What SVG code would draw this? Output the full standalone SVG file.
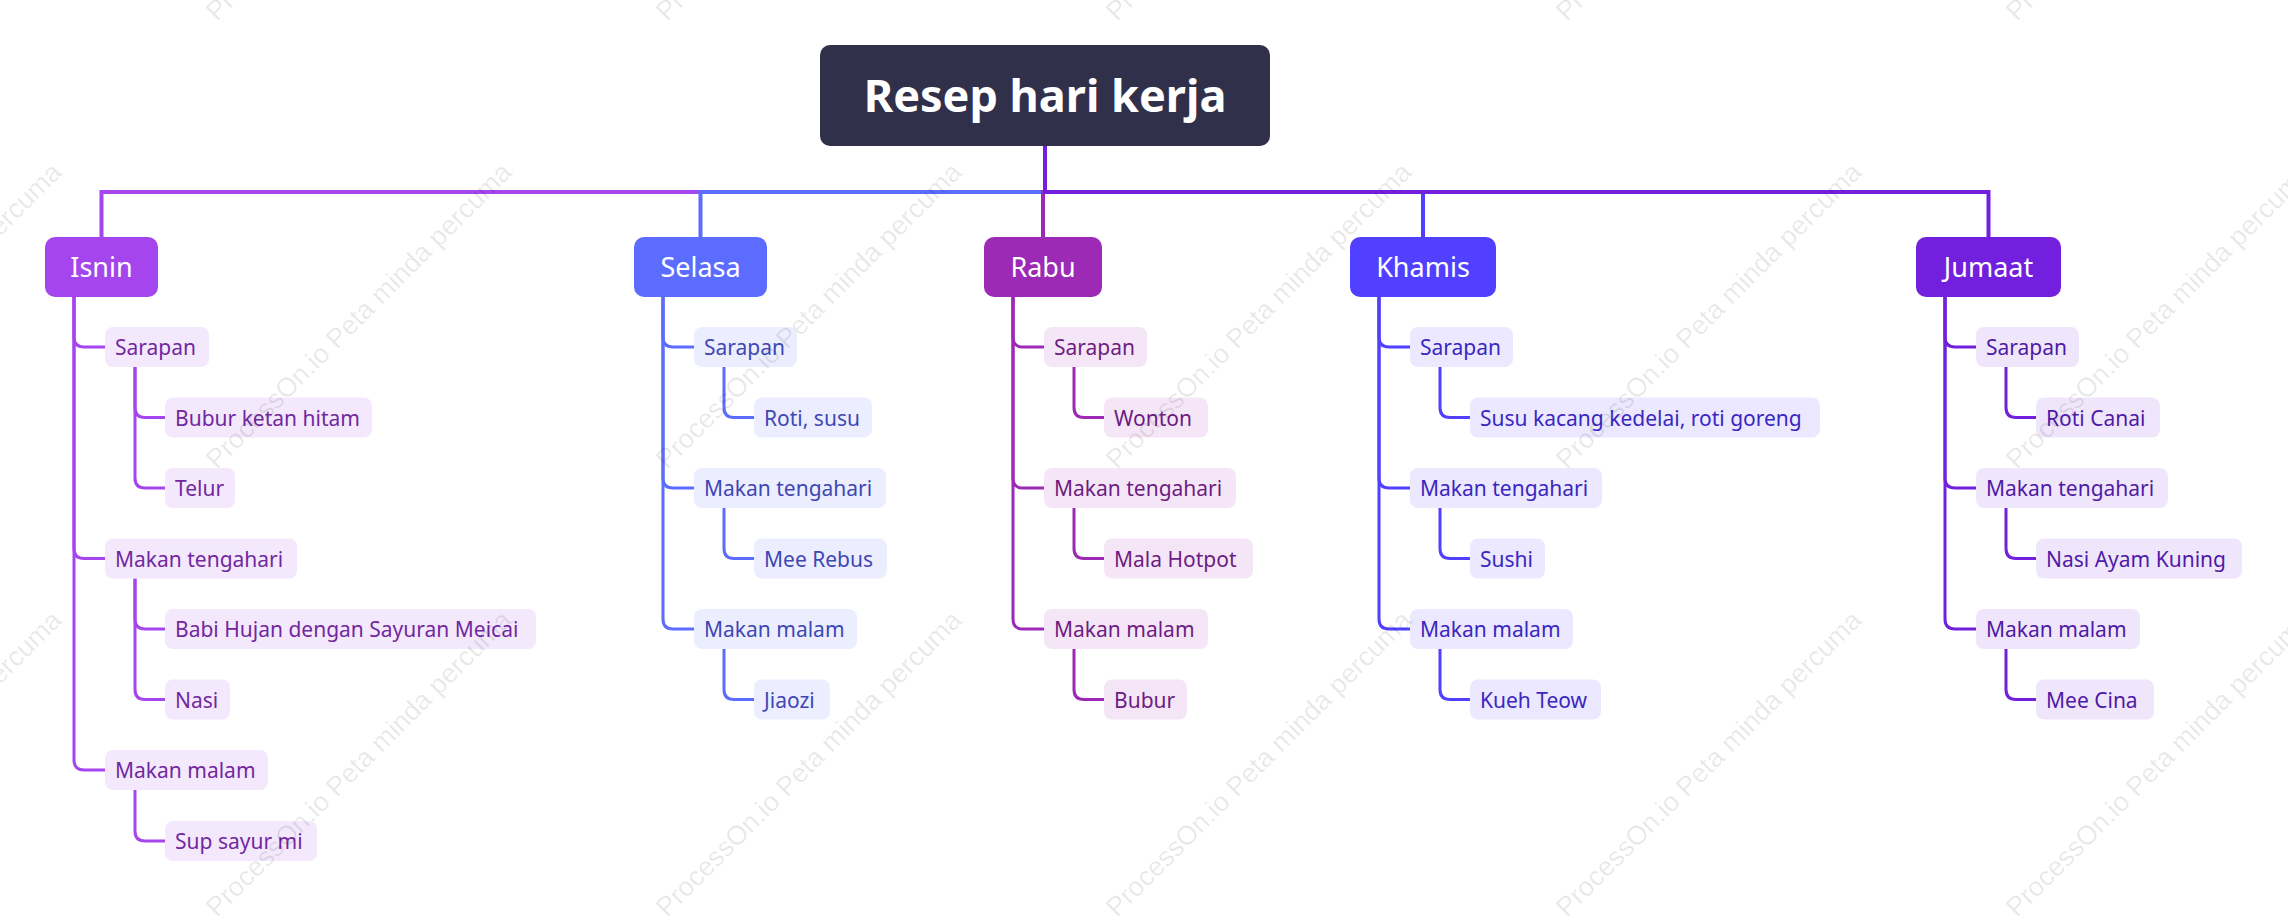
<svg xmlns="http://www.w3.org/2000/svg" width="2288" height="921" viewBox="0 0 2288 921">
<style>
text{font-family:"Noto Sans","Open Sans","DejaVu Sans",sans-serif}
.root{fill:#31304b}
.rt{fill:#fff;font-size:45px;font-weight:bold;text-anchor:middle}
.l1t{fill:#fff;font-size:27px;text-anchor:middle}
.lt{font-size:21px}
.c{fill:none;stroke-linecap:butt;stroke-linejoin:miter}
.c0{stroke-width:4}
.cs{stroke-width:3}
.k1{stroke:#a445ee}.f1{fill:#a445ee}.b1{fill:#f4e8fd}.t1{fill:#71289f}
.k2{stroke:#5c6cff}.f2{fill:#5c6cff}.b2{fill:#eceeff}.t2{fill:#3e47b4}
.k3{stroke:#9c2ab4}.f3{fill:#9c2ab4}.b3{fill:#f5e6f7}.t3{fill:#6d1c82}
.k4{stroke:#5140ff}.f4{fill:#5140ff}.b4{fill:#ebe8ff}.t4{fill:#3a27bf}
.k5{stroke:#7220de}.f5{fill:#7220de}.b5{fill:#efe6fb}.t5{fill:#4f1aa6}
.wm{fill:#000;fill-opacity:0.09;font-family:"Liberation Sans",Arial,sans-serif;font-size:27px}
</style>

<g id="connectors">
  <!-- root to level 1 -->
  <path class="c c0 k1" d="M1045 146 V192 H101.5 V237"/>
  <path class="c c0 k2" d="M1045 146 V192 H700.5 V237"/>
  <path class="c c0 k3" d="M1045 146 V192 H1043 V237"/>
  <path class="c c0 k4" d="M1045 146 V192 H1423 V237"/>
  <path class="c c0 k5" d="M1045 146 V192 H1988.5 V237"/>

  <!-- Isnin -->
  <path class="c cs k1" d="M74 297 V337 Q74 347 84 347 H105"/>
  <path class="c cs k1" d="M74 297 V548.5 Q74 558.5 84 558.5 H105"/>
  <path class="c cs k1" d="M74 297 V760 Q74 770 84 770 H105"/>
  <path class="c cs k1" d="M135 367 V407.5 Q135 417.5 145 417.5 H165"/>
  <path class="c cs k1" d="M135 367 V478 Q135 488 145 488 H165"/>
  <path class="c cs k1" d="M135 578.5 V619 Q135 629 145 629 H165"/>
  <path class="c cs k1" d="M135 578.5 V689.5 Q135 699.5 145 699.5 H165"/>
  <path class="c cs k1" d="M135 790 V831 Q135 841 145 841 H165"/>

  <!-- Selasa -->
  <path class="c cs k2" d="M663 297 V337 Q663 347 673 347 H694"/>
  <path class="c cs k2" d="M663 297 V478 Q663 488 673 488 H694"/>
  <path class="c cs k2" d="M663 297 V619 Q663 629 673 629 H694"/>
  <path class="c cs k2" d="M724 367 V407.5 Q724 417.5 734 417.5 H754"/>
  <path class="c cs k2" d="M724 508 V548.5 Q724 558.5 734 558.5 H754"/>
  <path class="c cs k2" d="M724 649 V689.5 Q724 699.5 734 699.5 H754"/>

  <!-- Rabu -->
  <path class="c cs k3" d="M1013 297 V337 Q1013 347 1023 347 H1044"/>
  <path class="c cs k3" d="M1013 297 V478 Q1013 488 1023 488 H1044"/>
  <path class="c cs k3" d="M1013 297 V619 Q1013 629 1023 629 H1044"/>
  <path class="c cs k3" d="M1074 367 V407.5 Q1074 417.5 1084 417.5 H1104"/>
  <path class="c cs k3" d="M1074 508 V548.5 Q1074 558.5 1084 558.5 H1104"/>
  <path class="c cs k3" d="M1074 649 V689.5 Q1074 699.5 1084 699.5 H1104"/>

  <!-- Khamis -->
  <path class="c cs k4" d="M1379 297 V337 Q1379 347 1389 347 H1410"/>
  <path class="c cs k4" d="M1379 297 V478 Q1379 488 1389 488 H1410"/>
  <path class="c cs k4" d="M1379 297 V619 Q1379 629 1389 629 H1410"/>
  <path class="c cs k4" d="M1440 367 V407.5 Q1440 417.5 1450 417.5 H1470"/>
  <path class="c cs k4" d="M1440 508 V548.5 Q1440 558.5 1450 558.5 H1470"/>
  <path class="c cs k4" d="M1440 649 V689.5 Q1440 699.5 1450 699.5 H1470"/>

  <!-- Jumaat -->
  <path class="c cs k5" d="M1945 297 V337 Q1945 347 1955 347 H1976"/>
  <path class="c cs k5" d="M1945 297 V478 Q1945 488 1955 488 H1976"/>
  <path class="c cs k5" d="M1945 297 V619 Q1945 629 1955 629 H1976"/>
  <path class="c cs k5" d="M2006 367 V407.5 Q2006 417.5 2016 417.5 H2036"/>
  <path class="c cs k5" d="M2006 508 V548.5 Q2006 558.5 2016 558.5 H2036"/>
  <path class="c cs k5" d="M2006 649 V689.5 Q2006 699.5 2016 699.5 H2036"/>
</g>

<g id="root"><rect class="root" x="820" y="45" width="450" height="101" rx="10"/><text class="rt" x="1045" y="112">Resep hari kerja</text></g>

<g id="isnin"><rect class="f1" x="45" y="237" width="113" height="60" rx="10"/><text class="l1t" x="101.5" y="277">Isnin</text></g>
<g id="selasa"><rect class="f2" x="634" y="237" width="133" height="60" rx="10"/><text class="l1t" x="700.5" y="277">Selasa</text></g>
<g id="rabu"><rect class="f3" x="984" y="237" width="118" height="60" rx="10"/><text class="l1t" x="1043" y="277">Rabu</text></g>
<g id="khamis"><rect class="f4" x="1350" y="237" width="146" height="60" rx="10"/><text class="l1t" x="1423" y="277">Khamis</text></g>
<g id="jumaat"><rect class="f5" x="1916" y="237" width="145" height="60" rx="10"/><text class="l1t" x="1988.5" y="277">Jumaat</text></g>

<!-- Isnin children -->
<g id="isnin-sarapan"><rect class="b1" x="105" y="327" width="104" height="40" rx="8"/><text class="lt t1" x="115" y="355">Sarapan</text></g>
<g id="isnin-bubur"><rect class="b1" x="165" y="397.5" width="207" height="40" rx="8"/><text class="lt t1" x="175" y="425.5">Bubur ketan hitam</text></g>
<g id="isnin-telur"><rect class="b1" x="165" y="468" width="70" height="40" rx="8"/><text class="lt t1" x="175" y="496">Telur</text></g>
<g id="isnin-tengahari"><rect class="b1" x="105" y="538.5" width="192" height="40" rx="8"/><text class="lt t1" x="115" y="566.5">Makan tengahari</text></g>
<g id="isnin-babi"><rect class="b1" x="165" y="609" width="371" height="40" rx="8"/><text class="lt t1" x="175" y="637">Babi Hujan dengan Sayuran Meicai</text></g>
<g id="isnin-nasi"><rect class="b1" x="165" y="679.5" width="65" height="40" rx="8"/><text class="lt t1" x="175" y="707.5">Nasi</text></g>
<g id="isnin-malam"><rect class="b1" x="105" y="750" width="163" height="40" rx="8"/><text class="lt t1" x="115" y="778">Makan malam</text></g>
<g id="isnin-sup"><rect class="b1" x="165" y="821" width="152" height="40" rx="8"/><text class="lt t1" x="175" y="849">Sup sayur mi</text></g>

<!-- Selasa children -->
<g id="selasa-sarapan"><rect class="b2" x="694" y="327" width="103" height="40" rx="8"/><text class="lt t2" x="704" y="355">Sarapan</text></g>
<g id="selasa-roti"><rect class="b2" x="754" y="397.5" width="118" height="40" rx="8"/><text class="lt t2" x="764" y="425.5">Roti, susu</text></g>
<g id="selasa-tengahari"><rect class="b2" x="694" y="468" width="192" height="40" rx="8"/><text class="lt t2" x="704" y="496">Makan tengahari</text></g>
<g id="selasa-mee"><rect class="b2" x="754" y="538.5" width="133" height="40" rx="8"/><text class="lt t2" x="764" y="566.5">Mee Rebus</text></g>
<g id="selasa-malam"><rect class="b2" x="694" y="609" width="163" height="40" rx="8"/><text class="lt t2" x="704" y="637">Makan malam</text></g>
<g id="selasa-jiaozi"><rect class="b2" x="754" y="679.5" width="76" height="40" rx="8"/><text class="lt t2" x="764" y="707.5">Jiaozi</text></g>

<!-- Rabu children -->
<g id="rabu-sarapan"><rect class="b3" x="1044" y="327" width="103" height="40" rx="8"/><text class="lt t3" x="1054" y="355">Sarapan</text></g>
<g id="rabu-wonton"><rect class="b3" x="1104" y="397.5" width="104" height="40" rx="8"/><text class="lt t3" x="1114" y="425.5">Wonton</text></g>
<g id="rabu-tengahari"><rect class="b3" x="1044" y="468" width="192" height="40" rx="8"/><text class="lt t3" x="1054" y="496">Makan tengahari</text></g>
<g id="rabu-mala"><rect class="b3" x="1104" y="538.5" width="149" height="40" rx="8"/><text class="lt t3" x="1114" y="566.5">Mala Hotpot</text></g>
<g id="rabu-malam"><rect class="b3" x="1044" y="609" width="164" height="40" rx="8"/><text class="lt t3" x="1054" y="637">Makan malam</text></g>
<g id="rabu-bubur"><rect class="b3" x="1104" y="679.5" width="83" height="40" rx="8"/><text class="lt t3" x="1114" y="707.5">Bubur</text></g>

<!-- Khamis children -->
<g id="khamis-sarapan"><rect class="b4" x="1410" y="327" width="103" height="40" rx="8"/><text class="lt t4" x="1420" y="355">Sarapan</text></g>
<g id="khamis-susu"><rect class="b4" x="1470" y="397.5" width="350" height="40" rx="8"/><text class="lt t4" x="1480" y="425.5">Susu kacang kedelai, roti goreng</text></g>
<g id="khamis-tengahari"><rect class="b4" x="1410" y="468" width="192" height="40" rx="8"/><text class="lt t4" x="1420" y="496">Makan tengahari</text></g>
<g id="khamis-sushi"><rect class="b4" x="1470" y="538.5" width="75" height="40" rx="8"/><text class="lt t4" x="1480" y="566.5">Sushi</text></g>
<g id="khamis-malam"><rect class="b4" x="1410" y="609" width="163" height="40" rx="8"/><text class="lt t4" x="1420" y="637">Makan malam</text></g>
<g id="khamis-kueh"><rect class="b4" x="1470" y="679.5" width="131" height="40" rx="8"/><text class="lt t4" x="1480" y="707.5">Kueh Teow</text></g>

<!-- Jumaat children -->
<g id="jumaat-sarapan"><rect class="b5" x="1976" y="327" width="103" height="40" rx="8"/><text class="lt t5" x="1986" y="355">Sarapan</text></g>
<g id="jumaat-roti"><rect class="b5" x="2036" y="397.5" width="124" height="40" rx="8"/><text class="lt t5" x="2046" y="425.5">Roti Canai</text></g>
<g id="jumaat-tengahari"><rect class="b5" x="1976" y="468" width="192" height="40" rx="8"/><text class="lt t5" x="1986" y="496">Makan tengahari</text></g>
<g id="jumaat-nasi"><rect class="b5" x="2036" y="538.5" width="206" height="40" rx="8"/><text class="lt t5" x="2046" y="566.5">Nasi Ayam Kuning</text></g>
<g id="jumaat-malam"><rect class="b5" x="1976" y="609" width="164" height="40" rx="8"/><text class="lt t5" x="1986" y="637">Makan malam</text></g>
<g id="jumaat-mee"><rect class="b5" x="2036" y="679.5" width="118" height="40" rx="8"/><text class="lt t5" x="2046" y="707.5">Mee Cina</text></g>

<g id="watermark">
  <text class="wm" transform="translate(-233 22) rotate(-45)">ProcessOn.io Peta minda percuma</text>
  <text class="wm" transform="translate(217 22) rotate(-45)">ProcessOn.io Peta minda percuma</text>
  <text class="wm" transform="translate(667 22) rotate(-45)">ProcessOn.io Peta minda percuma</text>
  <text class="wm" transform="translate(1117 22) rotate(-45)">ProcessOn.io Peta minda percuma</text>
  <text class="wm" transform="translate(1567 22) rotate(-45)">ProcessOn.io Peta minda percuma</text>
  <text class="wm" transform="translate(2017 22) rotate(-45)">ProcessOn.io Peta minda percuma</text>
  <text class="wm" transform="translate(-233 470) rotate(-45)">ProcessOn.io Peta minda percuma</text>
  <text class="wm" transform="translate(217 470) rotate(-45)">ProcessOn.io Peta minda percuma</text>
  <text class="wm" transform="translate(667 470) rotate(-45)">ProcessOn.io Peta minda percuma</text>
  <text class="wm" transform="translate(1117 470) rotate(-45)">ProcessOn.io Peta minda percuma</text>
  <text class="wm" transform="translate(1567 470) rotate(-45)">ProcessOn.io Peta minda percuma</text>
  <text class="wm" transform="translate(2017 470) rotate(-45)">ProcessOn.io Peta minda percuma</text>
  <text class="wm" transform="translate(-233 918) rotate(-45)">ProcessOn.io Peta minda percuma</text>
  <text class="wm" transform="translate(217 918) rotate(-45)">ProcessOn.io Peta minda percuma</text>
  <text class="wm" transform="translate(667 918) rotate(-45)">ProcessOn.io Peta minda percuma</text>
  <text class="wm" transform="translate(1117 918) rotate(-45)">ProcessOn.io Peta minda percuma</text>
  <text class="wm" transform="translate(1567 918) rotate(-45)">ProcessOn.io Peta minda percuma</text>
  <text class="wm" transform="translate(2017 918) rotate(-45)">ProcessOn.io Peta minda percuma</text>
</g>
</svg>
